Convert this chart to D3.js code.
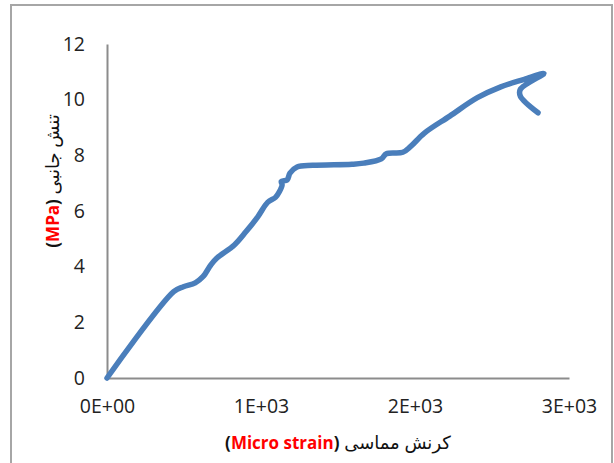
<!DOCTYPE html>
<html><head><meta charset="utf-8">
<script src="https://cdn.jsdelivr.net/npm/d3@7"></script>
<style>body{margin:0;background:#fff}</style>
</head><body>
<svg id="c" width="614" height="463"></svg>
<script>
const strain = [0, 433, 496, 573, 623, 674, 712, 827, 903, 980, 1043, 1094, 1120, 1137, 1132, 1170, 1188, 1234, 1336, 1590, 1667, 1781, 1814, 1921, 1972, 2061, 2226, 2405, 2557, 2710, 2837, 2684, 2684, 2799];
const stress = [0, 3.10, 3.28, 3.42, 3.64, 4.06, 4.30, 4.78, 5.26, 5.80, 6.31, 6.49, 6.70, 6.94, 7.06, 7.12, 7.36, 7.58, 7.64, 7.68, 7.72, 7.87, 8.06, 8.11, 8.32, 8.80, 9.41, 10.07, 10.46, 10.73, 10.94, 10.37, 10.13, 9.53];
const xTicks = [0, 1000, 2000, 3000];
const xTickLabels = ["0E+00", "1E+03", "2E+03", "3E+03"];
const yTicks = [0, 2, 4, 6, 8, 10, 12];

const svg = d3.select("#c");
const font = "'Open Sans','DejaVu Sans',sans-serif";
svg.append("rect").attr("x", 11).attr("y", 5).attr("width", 601).attr("height", 480)
  .attr("fill", "#fff").attr("stroke", "#a6a6a6").attr("stroke-width", 2);

const x = d3.scaleLinear().domain([0, 3000]).range([107, 569]);
const y = d3.scaleLinear().domain([0, 12]).range([378, 44]);

const xAxis = svg.append("g").attr("transform", `translate(0,${y(0)})`)
  .call(d3.axisBottom(x).tickValues(xTicks).tickSize(0).tickPadding(21)
    .tickFormat((d, i) => xTickLabels[i]));
const yAxis = svg.append("g").attr("transform", `translate(${x(0)},0)`)
  .call(d3.axisLeft(y).tickValues(yTicks).tickSize(0).tickPadding(22));
[xAxis, yAxis].forEach(g => {
  g.select(".domain").attr("stroke", "#8c8c8c").attr("stroke-width", 2);
  g.selectAll("text").attr("font-family", font).attr("font-size", 19.5).attr("fill", "#222");
});

const line = d3.line().x((d, i) => x(strain[i])).y((d, i) => y(stress[i])).curve(d3.curveCatmullRom.alpha(0.5));
svg.append("path").datum(strain).attr("d", line).attr("fill", "none")
  .attr("stroke", "#4a7ebb").attr("stroke-width", 5.5)
  .attr("stroke-linecap", "round").attr("stroke-linejoin", "round");

const xt = svg.append("text").attr("x", 338).attr("y", 449).attr("text-anchor", "middle")
  .attr("font-family", font).attr("font-size", 17).attr("fill", "#111");
xt.append("tspan").attr("font-weight", "bold").text("(");
xt.append("tspan").attr("font-weight", "bold").attr("fill", "#ff0000").text("Micro strain");
xt.append("tspan").attr("font-weight", "bold").text(")");
xt.append("tspan").attr("font-size", 18).text(" کرنش مماسی");

const yt = svg.append("text").attr("transform", "translate(59,181) rotate(-90)").attr("text-anchor", "middle")
  .attr("font-family", font).attr("font-size", 17).attr("fill", "#111");
yt.append("tspan").attr("font-weight", "bold").text("(");
yt.append("tspan").attr("font-weight", "bold").attr("fill", "#ff0000").text("MPa");
yt.append("tspan").attr("font-weight", "bold").text(")");
yt.append("tspan").attr("font-size", 18).text(" تنش جانبی");
</script>
</body></html>
